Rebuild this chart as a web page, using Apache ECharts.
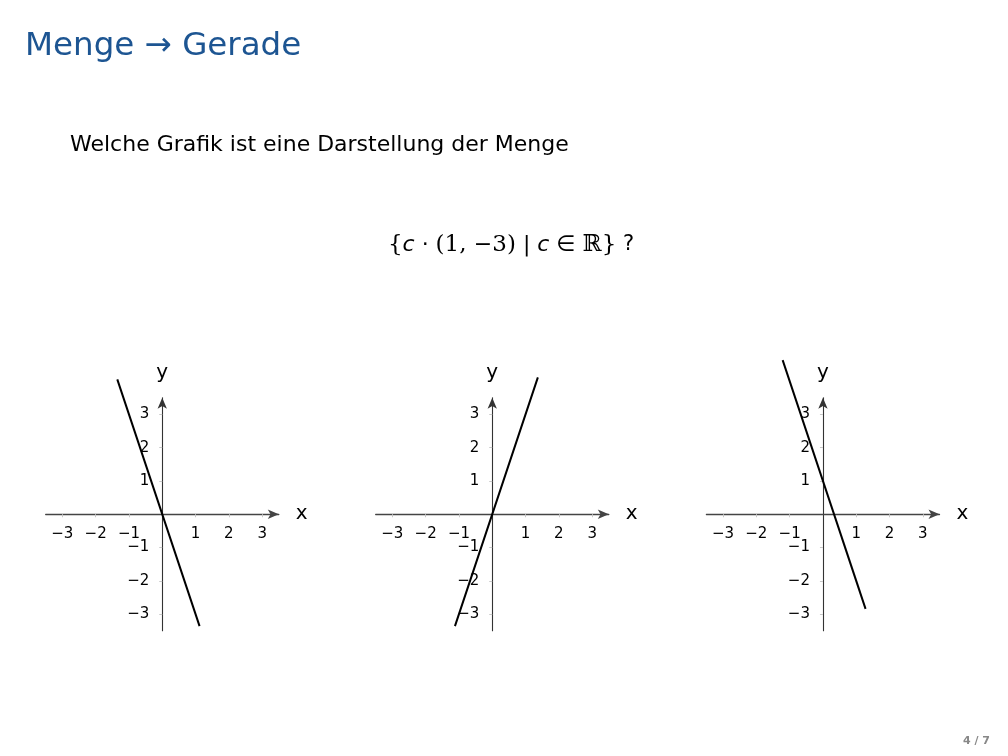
<!DOCTYPE html>
<html>
<head>
<meta charset="utf-8">
<script src="https://cdn.jsdelivr.net/npm/echarts@6/dist/echarts.min.js"></script>
<style>
html,body{margin:0;padding:0;background:#fff;}
#chart{width:1008px;height:756px;}
</style>
</head>
<body>
<div id="chart"></div>
<script>
// ---- data ----
const tickValues = [-3, -2, -1, 1, 2, 3];
const axisRange = [-3.5, 3.5];
// line endpoints (x, y)
const line1 = [[-1.35, 4.05], [1.12, -3.36]];   // y = -3x
const line2 = [[-1.12, -3.36], [1.37, 4.11]];   // y = 3x
const line3 = [[-1.21, 4.63], [1.28, -2.84]];   // y = 1 - 3x
const lines = [line1, line2, line3];

const titleText = 'Menge \u2192 Gerade';
const questionText = 'Welche Grafik ist eine Darstellung der Menge';
const pageText = '4 / 7';

// ---- layout ----
const gridLefts = [45.7, 375.7, 706.4];
const gridTop = 397.7;
const gridSize = 233.1;
const sans = '"DejaVu Sans", "Liberation Sans", sans-serif';
const serif = '"DejaVu Serif", "Liberation Serif", serif';
const fmt = v => (v < 0 ? '\u2212' + (-v) : String(v));

const grids = [], xAxes = [], yAxes = [], series = [];
lines.forEach((ln, i) => {
  grids.push({left: gridLefts[i], top: gridTop, width: gridSize, height: gridSize});
  xAxes.push({
    gridIndex: i, type: 'value', min: axisRange[0], max: axisRange[1],
    position: 'bottom', offset: -gridSize / 2,
    name: 'x', nameLocation: 'end', nameGap: 17,
    nameTextStyle: {fontSize: 20, color: '#000', fontFamily: sans, verticalAlign: 'middle'},
    axisLine: {show: true, onZero: false, symbol: ['none', 'arrow'], symbolSize: [7, 11],
      lineStyle: {color: '#444', width: 1.3}},
    axisTick: {show: true, customValues: tickValues, length: 3, lineStyle: {color: '#c8c8c8', width: 1}},
    axisLabel: {show: true, customValues: tickValues, formatter: fmt, fontSize: 15, color: '#000',
      fontFamily: sans, margin: 12},
    splitLine: {show: false}
  });
  yAxes.push({
    gridIndex: i, type: 'value', min: axisRange[0], max: axisRange[1],
    position: 'left', offset: -gridSize / 2,
    name: 'y', nameLocation: 'end', nameGap: 15,
    nameTextStyle: {fontSize: 20, color: '#000', fontFamily: sans},
    axisLine: {show: true, onZero: false, symbol: ['none', 'arrow'], symbolSize: [7, 11],
      lineStyle: {color: '#333', width: 1.1}},
    axisTick: {show: true, customValues: tickValues, length: 3, lineStyle: {color: '#c8c8c8', width: 1}},
    axisLabel: {show: true, customValues: tickValues, formatter: fmt, fontSize: 15, color: '#000',
      fontFamily: sans, margin: 13},
    splitLine: {show: false}
  });
  series.push({
    type: 'line', xAxisIndex: i, yAxisIndex: i, data: ln, showSymbol: false, symbol: 'none',
    clip: false, silent: true, animation: false,
    lineStyle: {color: '#000', width: 2}
  });
});

const chart = echarts.init(document.getElementById('chart'));
chart.setOption({
  animation: false,
  backgroundColor: '#fff',
  grid: grids, xAxis: xAxes, yAxis: yAxes, series: series,
  graphic: [
    {type: 'text', left: 25, top: 30, style: {text: titleText, fill: '#1d5592', font: '32.5px ' + sans}},
    {type: 'text', left: 70, top: 134, style: {text: questionText, fill: '#000', font: '22px ' + sans}},
    {type: 'text', x: 511, y: 245, style: {
      text: '{{i|c}{m| \u00b7 }{s|(1, }{m|\u2212}{s|3)}{m| | }{i|c}{m| \u2208 }\u211d}{q| ?}',
      align: 'center', verticalAlign: 'middle',
      font: '23px ' + serif, fill: '#000',
      rich: {
        s: {fontSize: 23, fontFamily: serif, fill: '#000'},
        i: {fontSize: 22, fontFamily: sans, fontStyle: 'italic', fill: '#000'},
        m: {fontSize: 22, fontFamily: sans, fill: '#000'},
        q: {fontSize: 21, fontFamily: sans, fill: '#000'}
      }}},
    {type: 'text', right: 18, top: 736, style: {text: pageText, fill: '#888', font: 'bold 11px ' + sans}}
  ]
});
</script>
</body>
</html>
